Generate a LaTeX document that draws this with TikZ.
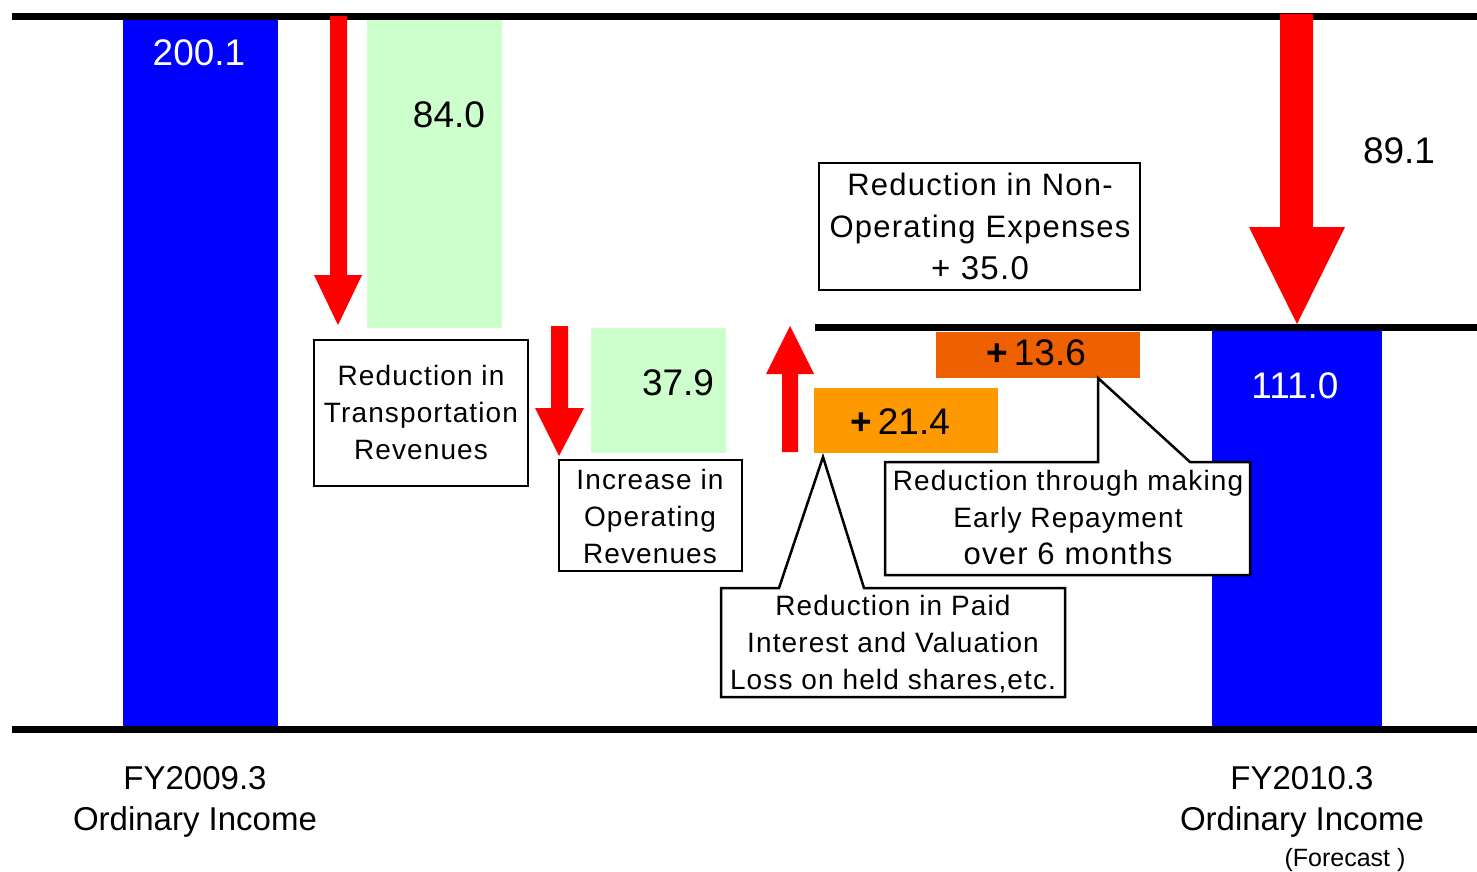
\documentclass[tikz,border=0pt]{standalone}
\usepackage{fontspec}
\setmainfont{Liberation Sans}
\newfontfamily\spaced{Liberation Sans}[LetterSpace=4]
\definecolor{barblue}{RGB}{0,0,255}
\definecolor{bargreen}{RGB}{204,255,204}
\definecolor{arrred}{RGB}{255,0,0}
\definecolor{boxorange}{RGB}{255,153,0}
\definecolor{boxdark}{RGB}{238,96,0}
\begin{document}
\begin{tikzpicture}[x=1pt,y=-1pt,
  bignum/.style={font=\fontsize{37}{44}\selectfont, inner sep=0pt},
  lbl/.style={font=\spaced\fontsize{28}{37}\selectfont, align=center, inner sep=0pt},
  axislbl/.style={font=\fontsize{33}{41}\selectfont, align=center, inner sep=0pt},
  frame/.style={draw=black, line width=2.5pt, fill=white, line join=miter},
  rule/.style={line width=7pt},
  redarrow/.style={fill=arrred}]
\useasboundingbox (0,0) rectangle (1477,872);

% bars
\fill[barblue] (123,20) rectangle (278,726);
\fill[bargreen] (367,20) rectangle (502,328);
\fill[bargreen] (591,328) rectangle (726,453);
\fill[barblue] (1212,331) rectangle (1382,726);
\fill[boxorange] (814,388) rectangle (998,453);
\fill[boxdark] (936,332) rectangle (1140,378);

% rules
\draw[rule] (12,17) -- (1477,17);
\draw[rule] (12,729) -- (1477,729);
\draw[rule] (815,327) -- (1477,327);

% red arrows
\fill[redarrow] (330,16) -- (347,16) -- (347,275) -- (362,275) -- (338,325) -- (314,275) -- (330,275) -- cycle;
\fill[redarrow] (551,326) -- (568,326) -- (568,408) -- (584,408) -- (559,456) -- (535,408) -- (551,408) -- cycle;
\fill[redarrow] (782,452) -- (798,452) -- (798,374) -- (814,374) -- (790,326) -- (766,374) -- (782,374) -- cycle;
\fill[redarrow] (1280,14) -- (1313,14) -- (1313,227) -- (1345,227) -- (1297,324) -- (1249,227) -- (1280,227) -- cycle;

% numbers
\node[bignum, text=white] (v2001) at (199,53) {200.1};
\node[bignum] (v840) at (449,115) {84.0};
\node[bignum] (v379) at (678,383) {37.9};
\node[bignum] (v891) at (1399,151) {89.1};
\node[bignum, text=white] (v1110) at (1295,386) {111.0};
\node[bignum] (v214) at (900,422) {\textbf{+}\,21.4};
\node[bignum] (v136) at (1036,353) {\textbf{+}\,13.6};

% framed boxes
\draw[frame] (314,340) rectangle (528,486);
\node[lbl] (transp) at (421,412) {Reduction in\\Transportation\\Revenues};
\draw[frame] (559,460) rectangle (742,571);
\node[lbl] (oprev) at (650,516) {Increase in\\Operating\\Revenues};
\draw[frame] (819,163) rectangle (1140,290);
\node[lbl, font=\spaced\fontsize{31}{42}\selectfont] (nonop) at (980,226) {Reduction in Non-\\Operating Expenses\\{\fontsize{33}{42}\selectfont + 35.0}};

% callouts
\draw[frame] (885,462) -- (1098,462) -- (1098,378) -- (1190,462) -- (1250,462) -- (1250,575) -- (885,575) -- cycle;
\node[lbl] (early) at (1068,518) {Reduction through making\\Early Repayment\\{\fontsize{31}{37}\selectfont over 6 months}};
\draw[frame] (721,588) -- (779,588) -- (823,457) -- (864,588) -- (1065,588) -- (1065,697) -- (721,697) -- cycle;
\node[lbl] (paid) at (893,644) {Reduction in Paid\\Interest and Valuation\\Loss on held shares,etc.};

% axis labels
\node[axislbl] (fy09) at (195,802) {FY2009.3\\Ordinary Income};
\node[axislbl] (fy10) at (1302,802) {FY2010.3\\Ordinary Income};
\node[font=\fontsize{25}{29}\selectfont, inner sep=0pt] (fcst) at (1345,860) {(Forecast )};
\end{tikzpicture}
\end{document}
